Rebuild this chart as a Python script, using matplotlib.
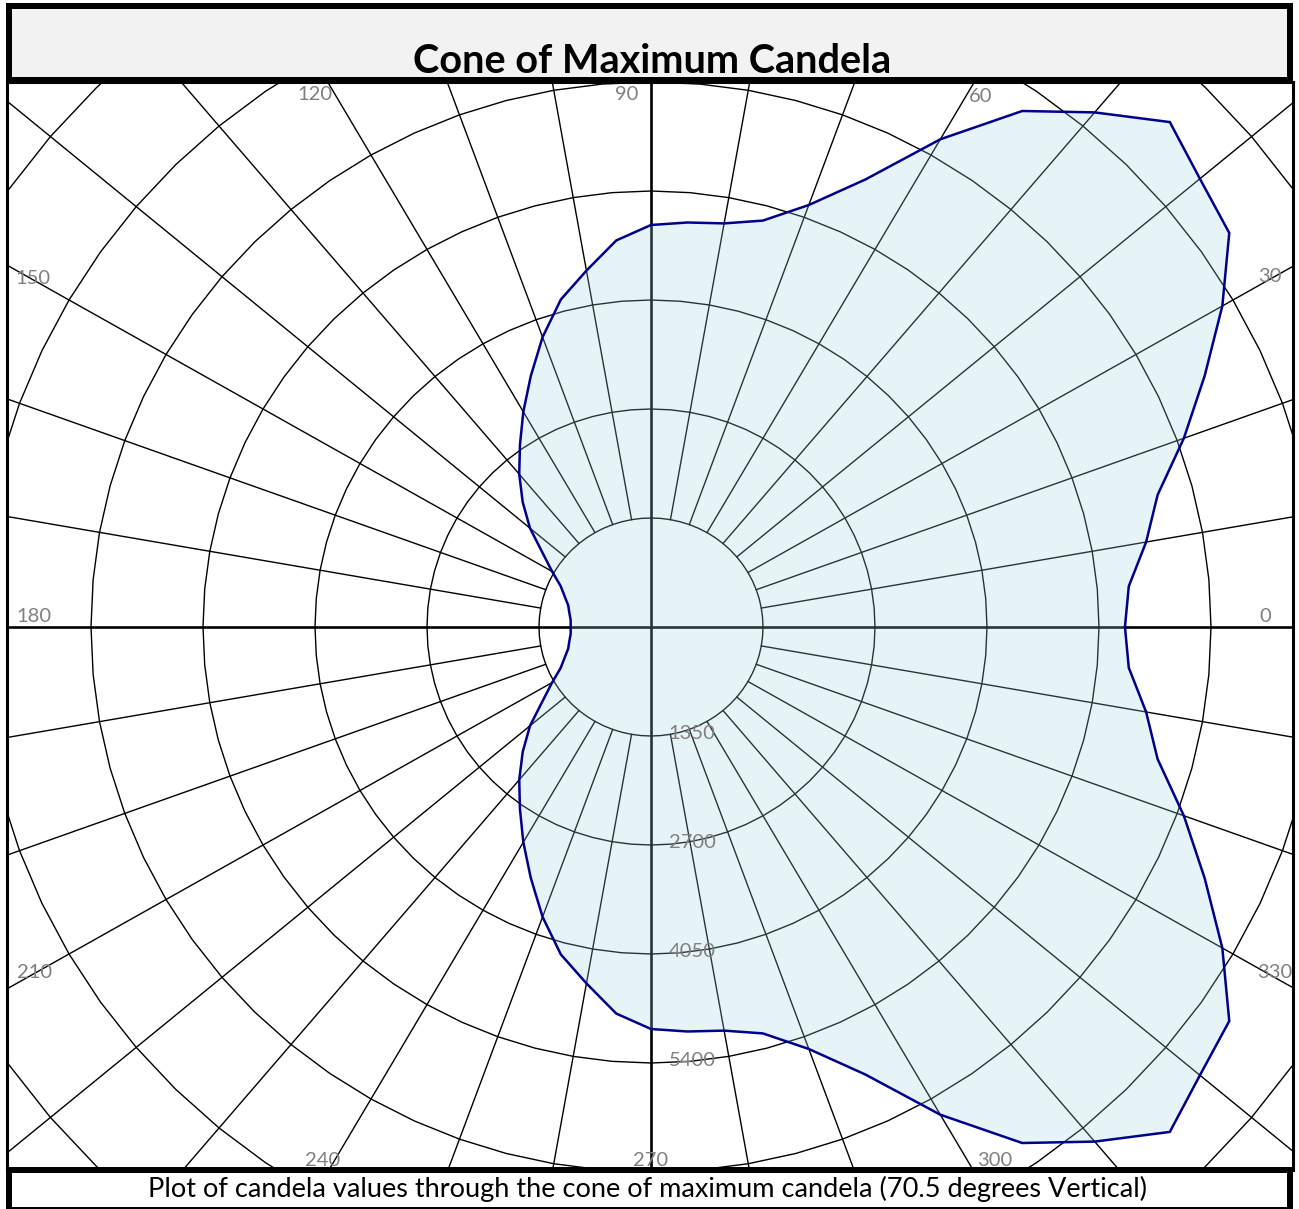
import numpy as np
import matplotlib
matplotlib.use("Agg")
import matplotlib.pyplot as plt
from matplotlib.patches import Rectangle

# ---------------- data ----------------
title = "Cone of Maximum Candela"
footer = "Plot of candela values through the cone of maximum candela (70.5 degrees Vertical)"

angles_deg = [0, 5, 10, 15, 20, 25, 30, 35, 40, 45, 50, 55, 60, 65, 70, 75, 80, 85,
              90, 95, 100, 105, 110, 115, 120, 125, 130, 135, 140, 145, 150, 155, 160, 165, 170, 175,
              180, 185, 190, 195, 200, 205, 210, 215, 220, 225, 230, 235, 240, 245, 250, 255, 260, 265,
              270, 275, 280, 285, 290, 295, 300, 305, 310, 315, 320, 325, 330, 335, 340, 345, 350, 355]
candela = [5713, 5781, 6060, 6322, 6835, 7364, 7952, 8509, 8637, 8844, 8320, 7802, 6975, 6116, 5562, 5211, 5076, 5029,
           4979, 4806, 4482, 4199, 3821, 3429, 3078, 2754, 2471, 2187, 1904, 1593, 1377, 1202, 1107, 1033, 999, 972,
           968, 972, 999, 1033, 1107, 1202, 1377, 1593, 1904, 2187, 2471, 2754, 3078, 3429, 3821, 4199, 4482, 4806,
           4979, 5029, 5076, 5211, 5562, 6116, 6975, 7802, 8320, 8844, 8637, 8509, 7952, 7364, 6835, 6322, 6060, 5781]

spoke_angles = list(range(0, 360, 10))
ring_vertex_angles = list(range(0, 360, 5))
ring_values = [1350, 2700, 4050, 5400, 6750, 8100, 9450, 10800, 12150]
ring_labels = ["1350", "2700", "4050", "5400"]
angle_labels = ["0", "30", "60", "90", "120", "150", "180", "210", "240", "270", "300", "330"]

# ---------------- layout (pixels, top-left origin) ----------------
W, H = 1299, 1209
label_px = [(1265, 614), (1270, 275), (981, 94), (627, 93), (315, 93), (33, 277),
            (34, 615), (35, 971), (323, 1158), (651, 1158), (995, 1158), (1275, 971)]
cx, cy = 651, 627
sx, sy = 112 / 1350, 109 / 1350          # px per candela
axL, axR, axT, axB = 6.5, 1292.5, 82, 1170

fig = plt.figure(figsize=(W / 100, H / 100), dpi=100)
fig.patch.set_facecolor("white")

def fx(px):
    return px / W

def fy(py):
    return 1 - py / H

ax = fig.add_axes([fx(axL), fy(axB), (axR - axL) / W, (axB - axT) / H])
ax.set_xlim((axL - cx) / sx, (axR - cx) / sx)
ax.set_ylim((cy - axB) / sy, (cy - axT) / sy)
ax.set_xticks([])
ax.set_yticks([])
for s in ax.spines.values():
    s.set_linewidth(2.2)
    s.set_color("black")

# polygon rings
ga = np.deg2rad(np.array(ring_vertex_angles + [ring_vertex_angles[0]], dtype=float))
for rv in ring_values:
    ax.plot(rv * np.cos(ga), rv * np.sin(ga), color="black", lw=1.0, zorder=1)

# spokes
rmax = 20000
for a in spoke_angles:
    if a % 90 == 0:
        continue
    t = np.deg2rad(a)
    ax.plot([ring_values[0] * np.cos(t), rmax * np.cos(t)],
            [ring_values[0] * np.sin(t), rmax * np.sin(t)], color="black", lw=1.0, zorder=1)

# main axes
ax.axhline(0, color="black", lw=1.9, zorder=2)
ax.axvline(0, color="black", lw=1.9, zorder=2)

# data
th = np.deg2rad(np.array(angles_deg + [angles_deg[0]], dtype=float))
rr = np.array(candela + [candela[0]], dtype=float)
xs, ys = rr * np.cos(th), rr * np.sin(th)
ax.fill(xs, ys, facecolor=(0.64, 0.83, 0.88), alpha=0.25, edgecolor="none", zorder=3)
ax.plot(xs, ys, color="#00008B", lw=1.8, zorder=4, solid_joinstyle="miter")

# ring labels along 270 axis
for v, lab in zip(ring_values, ring_labels):
    ax.annotate(lab, xy=(0, -v), xytext=(41, 2.5), textcoords="offset pixels",
                ha="center", va="center", fontsize=14.5, color="#808080",
                family="Lato", zorder=6)

# angle labels
for lab, (px, py) in zip(angle_labels, label_px):
    fig.text(fx(px), fy(py + 7.5), lab, ha="center", va="baseline", fontsize=14.5,
             color="#808080", family="Lato", zorder=6)

# title and footer boxes
lw_box = 6 * 0.72
fig.add_artist(Rectangle((fx(9), fy(79.5)), (1290 - 9) / W, (79.5 - 6) / H,
                         transform=fig.transFigure, facecolor="#F2F2F2",
                         edgecolor="black", linewidth=lw_box, zorder=10))
fig.text(fx(652), fy(73), title, ha="center", va="baseline", fontsize=28.5,
         fontweight="bold", family="Lato", color="black", zorder=11)

fig.add_artist(Rectangle((fx(9), fy(1210)), (1290 - 9) / W, (1210 - 1170.5) / H,
                         transform=fig.transFigure, facecolor="white",
                         edgecolor="black", linewidth=lw_box, zorder=10))
fig.text(fx(648), fy(1197), footer, ha="center", va="baseline", fontsize=19.5,
         family="Lato", color="black", zorder=11)

fig.savefig("out.png", dpi=100)
